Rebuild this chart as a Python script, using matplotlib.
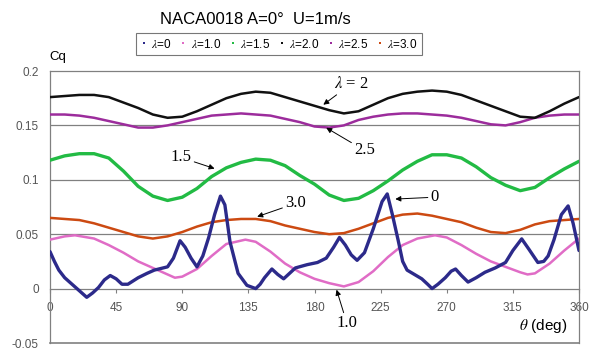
import matplotlib
matplotlib.use("Agg")
import matplotlib.pyplot as plt
from matplotlib.lines import Line2D

plt.rcParams['mathtext.fontset'] = 'stix'
plt.rcParams['font.family'] = ['Liberation Sans', 'DejaVu Sans']

# ---------------- data ----------------
th_l2 = [0, 10, 20, 30, 40, 50, 60, 70, 80, 90, 100, 110, 120, 130, 140, 150, 160, 170, 180,
         190, 200, 210, 220, 230, 240, 250, 260, 270, 280, 290, 300, 310, 320, 330, 340, 350, 360]
cq_l2 = [0.176, 0.177, 0.178, 0.178, 0.176, 0.171, 0.166, 0.160, 0.157, 0.158, 0.163, 0.169, 0.175,
         0.179, 0.181, 0.180, 0.176, 0.172, 0.168, 0.164, 0.161, 0.163, 0.169, 0.175, 0.179, 0.181,
         0.182, 0.181, 0.178, 0.173, 0.168, 0.163, 0.158, 0.157, 0.163, 0.170, 0.176]

th_l25 = th_l2
cq_l25 = [0.160, 0.160, 0.159, 0.157, 0.154, 0.151, 0.148, 0.148, 0.150, 0.153, 0.156, 0.159, 0.160,
          0.161, 0.160, 0.159, 0.156, 0.153, 0.149, 0.148, 0.150, 0.155, 0.158, 0.160, 0.161, 0.161,
          0.160, 0.159, 0.157, 0.154, 0.151, 0.150, 0.153, 0.157, 0.159, 0.160, 0.160]

th_l15 = th_l2
cq_l15 = [0.118, 0.122, 0.124, 0.124, 0.120, 0.108, 0.094, 0.085, 0.081, 0.084, 0.092, 0.103, 0.111,
          0.116, 0.119, 0.118, 0.113, 0.104, 0.096, 0.086, 0.081, 0.083, 0.090, 0.099, 0.109, 0.117,
          0.123, 0.123, 0.120, 0.112, 0.102, 0.095, 0.090, 0.093, 0.102, 0.110, 0.117]

th_l3 = th_l2
cq_l3 = [0.065, 0.064, 0.063, 0.060, 0.056, 0.052, 0.048, 0.046, 0.048, 0.052, 0.057, 0.061, 0.063,
         0.064, 0.064, 0.062, 0.058, 0.055, 0.052, 0.050, 0.051, 0.055, 0.060, 0.065, 0.068, 0.069,
         0.067, 0.064, 0.061, 0.056, 0.052, 0.051, 0.054, 0.059, 0.062, 0.063, 0.064]

th_l1 = [0, 10, 17, 30, 40, 50, 60, 70, 80, 85, 90, 100, 110, 120, 133, 140, 150, 160, 170, 180,
         190, 200, 210, 220, 230, 240, 250, 262, 270, 280, 290, 300, 310, 320, 325, 330, 340, 350, 360]
cq_l1 = [0.045, 0.048, 0.049, 0.046, 0.040, 0.033, 0.025, 0.019, 0.013, 0.010, 0.011, 0.018, 0.030,
         0.041, 0.045, 0.043, 0.034, 0.023, 0.015, 0.009, 0.005, 0.002, 0.006, 0.016, 0.029, 0.040,
         0.046, 0.049, 0.047, 0.040, 0.032, 0.025, 0.020, 0.015, 0.013, 0.014, 0.023, 0.035, 0.046]

th_l0 = [0, 3, 6, 10, 15, 20, 25, 29, 33, 37, 41, 45, 49, 53, 60, 66, 71, 80, 84, 88.5, 92, 96, 100,
         104, 108, 112, 116, 119, 122.5, 128, 134, 140, 143, 146, 151, 155, 159, 163, 167, 175, 182,
         188, 193, 197, 201, 205, 209, 214, 220, 226, 229.5, 233, 237, 240, 243, 248, 253, 257, 260,
         264, 269, 273, 276, 280, 284.5, 290, 296, 303, 310, 315, 321, 326, 332, 336, 339, 343, 348,
         352.6, 356, 360]
cq_l0 = [0.034, 0.025, 0.017, 0.010, 0.004, -0.002, -0.008, -0.004, 0.001, 0.008, 0.012, 0.009, 0.004,
         0.004, 0.010, 0.014, 0.017, 0.020, 0.028, 0.044, 0.038, 0.028, 0.020, 0.030, 0.047, 0.068,
         0.085, 0.077, 0.043, 0.014, 0.003, 0.000, 0.004, 0.010, 0.018, 0.013, 0.009, 0.014, 0.019,
         0.022, 0.024, 0.028, 0.038, 0.047, 0.040, 0.031, 0.026, 0.033, 0.055, 0.080, 0.087, 0.068,
         0.044, 0.025, 0.017, 0.013, 0.009, 0.004, 0.000, 0.004, 0.010, 0.016, 0.018, 0.012, 0.006,
         0.010, 0.015, 0.019, 0.024, 0.035, 0.0457, 0.036, 0.024, 0.025, 0.030, 0.045, 0.068, 0.076,
         0.060, 0.035]

xticks = [0, 45, 90, 135, 180, 225, 270, 315, 360]
yticks = [-0.05, 0, 0.05, 0.1, 0.15, 0.2]
ytick_labels = ["-0.05", "0", "0.05", "0.1", "0.15", "0.2"]

legend_labels = [r"$\lambda$=0", r"$\lambda$=1.0", r"$\lambda$=1.5",
                 r"$\lambda$=2.0", r"$\lambda$=2.5", r"$\lambda$=3.0"]

# ---------------- figure ----------------
fig = plt.figure(figsize=(5.92, 3.49), dpi=100)
ax = fig.add_axes([50/592, 1-343/349, (579-50)/592, (343-71)/349])

c_blue = "#2C2A8A"
c_pink = "#E06CC6"
c_green = "#22BB44"
c_black = "#111111"
c_purple = "#9C2C9C"
c_orange = "#CC4A12"

ax.plot(th_l3, cq_l3, color=c_orange, lw=1.8, solid_capstyle='round', zorder=3)
ax.plot(th_l1, cq_l1, color=c_pink, lw=1.8, solid_capstyle='round', zorder=3)
ax.plot(th_l25, cq_l25, color=c_purple, lw=1.8, solid_capstyle='round', zorder=3)
ax.plot(th_l2, cq_l2, color=c_black, lw=1.8, solid_capstyle='round', zorder=4)
ax.plot(th_l15, cq_l15, color=c_green, lw=2.4, solid_capstyle='round', zorder=3)
ax.plot(th_l0, cq_l0, color=c_blue, lw=2.4, solid_capstyle='round', solid_joinstyle='round', zorder=5)

ax.set_xlim(0, 360)
ax.set_ylim(-0.05, 0.2)

gray = "#808080"
for s in ['left', 'right', 'top']:
    ax.spines[s].set_color(gray)
    ax.spines[s].set_linewidth(0.9)
ax.spines['bottom'].set_position(('data', 0))
ax.spines['bottom'].set_color(gray)
ax.spines['bottom'].set_linewidth(0.9)
ax.axhline(-0.05, color=gray, lw=1.2, clip_on=False, zorder=1)
for g in [0.05, 0.1, 0.15]:
    ax.axhline(g, color=gray, lw=0.9, zorder=1)

ax.set_xticks(xticks)
ax.set_xticklabels([str(v) for v in xticks])
ax.tick_params(axis='x', direction='out', length=3, width=0.8, color=gray,
               labelsize=8.5, labelcolor="#555555", pad=7)
ax.set_yticks(yticks)
ax.set_yticklabels(ytick_labels)
ax.tick_params(axis='y', length=0, labelsize=8.5, labelcolor="#555555", pad=8)

# titles / labels
fig.text(255/592, 1-20/349, "NACA0018 A=0\u00b0  U=1m/s", ha='center', va='center', fontsize=12)
fig.text(58/592, 1-57/349, "Cq", ha='center', va='center', fontsize=9.5)
fig.text(543/592, 1-326/349, r"$\theta$ (deg)", ha='center', va='center', fontsize=11)

# legend
handles = [Line2D([], [], ls='none', marker='s', ms=2.0, color=c, markeredgewidth=0)
           for c in [c_blue, c_pink, c_green, c_black, c_purple, c_orange]]
leg = fig.legend(handles, legend_labels, loc='center', bbox_to_anchor=(279/592, 1-44/349),
                 ncol=6, fontsize=8.5, frameon=True, fancybox=False, handlelength=0.6,
                 handletextpad=0.3, columnspacing=0.7, borderpad=0.4, edgecolor="#555555")
leg.get_frame().set_linewidth(0.8)

# annotations (text in serif)
ann_kw = dict(arrowprops=dict(arrowstyle='-|>', color='black', lw=0.7,
                              mutation_scale=8, shrinkA=0, shrinkB=0),
              fontsize=12, family='Liberation Serif', va='center')
ax.annotate(r"$\lambda$ = 2", xy=(186, 0.169), xytext=(193, 0.188), ha='left', **ann_kw)
ax.annotate("2.5", xy=(188, 0.1478), xytext=(207, 0.127), ha='left', **ann_kw)
ax.annotate("1.5", xy=(112, 0.1103), xytext=(82, 0.1205), ha='left', **ann_kw)
ax.annotate("3.0", xy=(141, 0.0661), xytext=(160, 0.0783), ha='left', **ann_kw)
ax.annotate("0", xy=(235, 0.0823), xytext=(259, 0.0840), ha='left', **ann_kw)
ax.annotate("1.0", xy=(195, -0.0010), xytext=(195, -0.0320), ha='left', **ann_kw)

fig.savefig("out.png", dpi=100)
